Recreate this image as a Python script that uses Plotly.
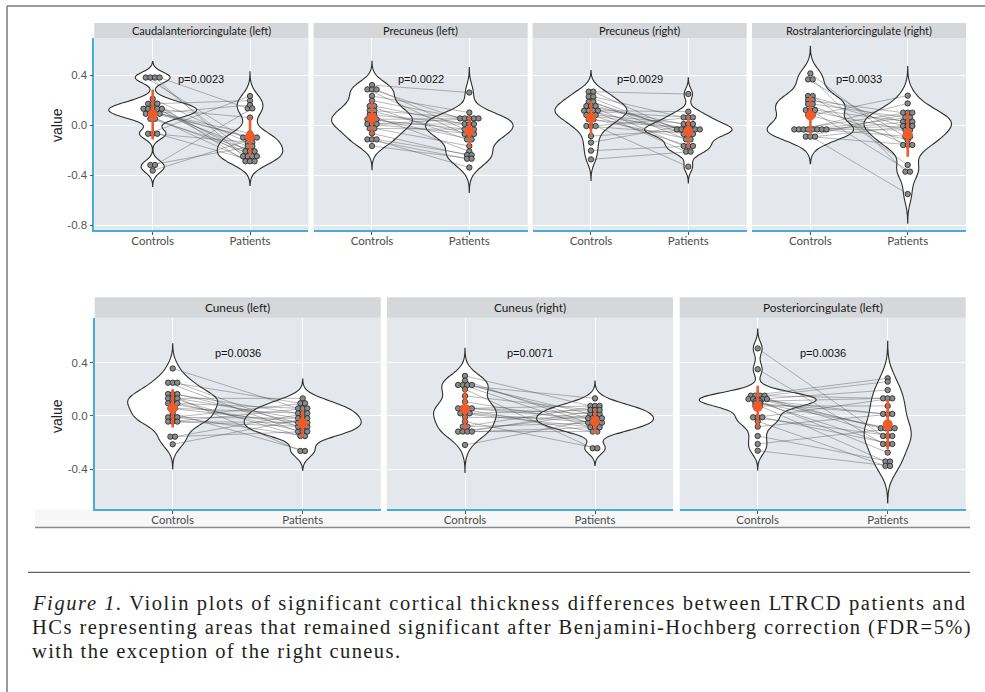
import numpy as np
import plotly.graph_objects as go

W, H = 985, 692

regions = ["Caudalanteriorcingulate (left)", "Precuneus (left)", "Precuneus (right)",
           "Rostralanteriorcingulate (right)", "Cuneus (left)", "Cuneus (right)",
           "Posteriorcingulate (left)"]
p_labels = ["p=0.0023", "p=0.0022", "p=0.0029", "p=0.0033", "p=0.0036", "p=0.0071", "p=0.0036"]
groups = ["Controls", "Patients"]

# paired values (index i of controls is paired with index i of patients)
controls_caudal_l = [0.38, 0.38, 0.38, 0.38, 0.21, 0.17, 0.17, 0.17, 0.13, 0.13, 0.13, 0.13, 0.13,
                     0.09, 0.09, 0.09, 0.09, 0.05, 0.05, -0.07, -0.07, -0.07, -0.32, -0.32, -0.365]
patients_caudal_l = [-0.1, -0.21, -0.25, 0.133, -0.14, -0.25, 0.195, -0.29, -0.1, -0.17, 0.06, -0.21,
                     -0.25, -0.29, 0.16, -0.1, -0.067, -0.21, -0.25, 0.232, -0.14, -0.29, -0.17, 0.133, -0.1]
controls_precun_l = [0.32, 0.285, 0.285, 0.285, 0.232, 0.195, 0.152, 0.152, 0.115, 0.115, 0.08, 0.08,
                     0.045, 0.045, 0.045, 0.008, 0.008, 0.008, -0.027, -0.027, -0.067, -0.115, -0.115,
                     -0.115, -0.168]
patients_precun_l = [0.26, -0.072, 0.053, -0.035, 0.1, 0.053, -0.115, 0.008, -0.072, 0.053, -0.21, 0.008,
                     -0.035, 0.053, -0.115, -0.072, 0.053, 0.008, -0.035, -0.168, -0.24, -0.27, -0.34,
                     -0.24, -0.27]
controls_precun_r = [0.267, 0.267, 0.227, 0.227, 0.187, 0.187, 0.152, 0.152, 0.152, 0.115, 0.115, 0.115,
                     0.115, 0.08, 0.08, 0.08, 0.045, 0.045, -0.008, -0.008, -0.008, -0.088, -0.14,
                     -0.205, -0.275]
patients_precun_r = [0.248, -0.035, -0.072, 0.061, -0.035, -0.115, 0.008, -0.168, -0.035, 0.061, -0.072,
                     -0.213, 0.107, -0.035, -0.168, 0.008, -0.035, -0.115, -0.072, 0.061, -0.333, -0.035,
                     0.008, -0.168, -0.213]
controls_rostral_r = [0.413, 0.365, 0.365, 0.232, 0.232, 0.2, 0.2, 0.168, 0.168, 0.12, 0.12, 0.12, 0.08,
                      0.08, -0.035, -0.035, -0.035, -0.035, -0.035, -0.035, -0.035, -0.035, -0.093,
                      -0.093, -0.093]
patients_rostral_r = [-0.16, -0.093, -0.373, 0.027, -0.32, 0.099, -0.008, -0.16, 0.061, -0.04, -0.373,
                      0.027, -0.12, 0.235, 0.099, -0.552, 0.173, -0.008, 0.061, -0.093, 0.027, -0.04,
                      0.099, -0.16, -0.008]
controls_cuneus_l = [0.356, 0.249, 0.249, 0.249, 0.164, 0.164, 0.164, 0.132, 0.132, 0.132, 0.095, 0.095,
                     0.095, 0.057, 0.057, 0.02, -0.01, -0.01, -0.01, -0.042, -0.042, -0.042, -0.155,
                     -0.155, -0.212]
patients_cuneus_l = [0.057, -0.117, 0.095, -0.08, -0.262, 0.02, -0.05, 0.132, -0.15, -0.017, -0.08, 0.057,
                     -0.117, -0.05, 0.02, -0.262, -0.017, 0.095, -0.15, -0.08, 0.057, -0.05, -0.117, 0.02,
                     -0.017]
controls_cuneus_r = [0.3, 0.265, 0.232, 0.232, 0.232, 0.232, 0.2, 0.15, 0.107, 0.057, 0.057, 0.057, 0.057,
                     0.02, 0.02, 0.02, -0.01, -0.042, -0.08, -0.08, -0.117, -0.117, -0.117, -0.117, -0.217]
patients_cuneus_r = [0.075, -0.05, 0.132, -0.085, 0.015, -0.017, -0.242, 0.045, -0.05, -0.117, 0.075,
                     -0.017, 0.015, -0.085, -0.05, 0.045, -0.017, -0.242, 0.075, -0.05, 0.015, -0.117,
                     0.045, -0.085, -0.017]
controls_postcing_l = [0.506, 0.35, 0.152, 0.152, 0.152, 0.152, 0.127, 0.127, 0.127, 0.127, 0.127, 0.11,
                       0.11, 0.095, 0.095, 0.075, 0.075, -0.01, -0.01, -0.01, -0.04, -0.08, -0.15, -0.21,
                       -0.26]
patients_postcing_l = [-0.15, -0.21, 0.282, -0.092, 0.132, 0.257, -0.21, 0.015, -0.092, 0.194, -0.15,
                       0.132, -0.274, 0.015, -0.092, 0.075, -0.341, -0.15, 0.132, -0.21, -0.374, 0.015,
                       -0.341, -0.092, -0.374]

controls_all = [controls_caudal_l, controls_precun_l, controls_precun_r, controls_rostral_r,
                controls_cuneus_l, controls_cuneus_r, controls_postcing_l]
patients_all = [patients_caudal_l, patients_precun_l, patients_precun_r, patients_rostral_r,
                patients_cuneus_l, patients_cuneus_r, patients_postcing_l]

# mean +/- sd (orange summaries)
controls_mean = [0.085, 0.055, 0.058, 0.076, 0.057, 0.053, 0.068]
controls_sd = [0.200, 0.1375, 0.133, 0.156, 0.1425, 0.150, 0.158]
patients_mean = [-0.092, -0.05, -0.052, -0.073, -0.057, -0.041, -0.063]
patients_sd = [0.157, 0.1225, 0.117, 0.180, 0.1025, 0.094, 0.185]

top_ticks = [-0.8, -0.4, 0.0, 0.4]
top_ticktext = ["-0.8", "-0.4", "0.0", "0.4"]
bot_ticks = [-0.4, 0.0, 0.4]
bot_ticktext = ["-0.4", "0.0", "0.4"]

caption_lines = [
    "<i>Figure 1.</i> Violin plots of significant cortical thickness differences between LTRCD patients and",
    "HCs representing areas that remained significant after Benjamini-Hochberg correction (FDR=5%)",
    "with the exception of the right cuneus.",
]

# ---------------- layout geometry (pixels) ----------------
panel_px = [
    (94.3, 308.4, 38.3, 230.0),
    (313.6, 527.7, 38.3, 230.0),
    (532.6, 746.7, 38.3, 230.0),
    (752.0, 966.1, 38.3, 230.0),
    (94.7, 380.7, 317.7, 509.3),
    (387.0, 673.0, 317.7, 509.3),
    (679.7, 965.7, 317.7, 509.3),
]
strip_top = [23.0, 23.0, 23.0, 23.0, 297.3, 297.3, 297.3]
top_range = [-0.84, 0.694]
bot_range = [-0.699, 0.736]
XR = [0.4, 2.6]

BLUE = '#45ACDB'
ORANGE = '#F15A29'
PANEL_BG = '#E4E7EB'
STRIP_BG = '#D5D7DA'
DOT_STEP_PX = 4.6


def nrd0(v):
    v = np.asarray(v, float)
    sd = v.std(ddof=1)
    q75, q25 = np.percentile(v, [75, 25])
    lo = min(sd, (q75 - q25) / 1.34)
    if lo <= 0:
        lo = sd
    return 0.9 * lo * len(v) ** -0.2


def kde_max(v, bw):
    v = np.asarray(v, float)
    grid = np.linspace(v.min() - 3 * bw, v.max() + 3 * bw, 600)
    d = np.exp(-0.5 * ((grid[:, None] - v[None, :]) / bw) ** 2).sum(1) / (len(v) * bw * np.sqrt(2 * np.pi))
    return d.max()


def dot_offsets(v, dx):
    v = np.round(np.asarray(v, float), 4)
    offs = np.zeros(len(v))
    for val in np.unique(v):
        idx = np.where(v == val)[0]
        m = len(idx)
        for k, j in enumerate(idx):
            offs[j] = (k - (m - 1) / 2) * dx
    return offs


fig = go.Figure()
layout = dict(width=W, height=H, margin=dict(l=0, r=0, t=0, b=0), paper_bgcolor='white',
              plot_bgcolor=PANEL_BG, showlegend=False, violinmode='overlay')
shapes = []
annotations = []

for i in range(7):
    n = '' if i == 0 else str(i + 1)
    xa, ya = 'x' + n, 'y' + n
    x0p, x1p, ytp, ybp = panel_px[i]
    top = i < 4
    first_col = i in (0, 4)
    c = np.array(controls_all[i], float)
    p = np.array(patients_all[i], float)

    # violins
    bws = [nrd0(c), nrd0(p)]
    dm = [kde_max(c, bws[0]), kde_max(p, bws[1])]
    for g, vals in enumerate([c, p]):
        bw = bws[g]
        fig.add_trace(go.Violin(
            x0=g + 1, y=vals, xaxis=xa, yaxis=ya, width=0.9 * dm[g] / max(dm), scalemode='width',
            bandwidth=bw, spanmode='manual', span=[vals.min() - 3 * bw, vals.max() + 3 * bw],
            fillcolor='white', line=dict(color='#2e2e2e', width=1.1), points=False,
            box_visible=False, meanline_visible=False, hoverinfo='skip', showlegend=False))

    px_per_unit = (x1p - x0p) / (XR[1] - XR[0])
    dx = DOT_STEP_PX / px_per_unit
    oc = dot_offsets(c, dx)
    op = dot_offsets(p, dx)

    lx, ly = [], []
    for k in range(len(c)):
        lx += [1 + oc[k], 2 + op[k], None]
        ly += [c[k], p[k], None]
    fig.add_trace(go.Scatter(x=lx, y=ly, mode='lines', xaxis=xa, yaxis=ya,
                             line=dict(color='rgba(70,70,70,0.42)', width=0.9),
                             hoverinfo='skip', showlegend=False))
    fig.add_trace(go.Scatter(x=np.concatenate([1 + oc, 2 + op]), y=np.concatenate([c, p]),
                             mode='markers', xaxis=xa, yaxis=ya,
                             marker=dict(size=5.4, color='#8a8a8a', line=dict(color='#222222', width=0.8)),
                             hoverinfo='skip', showlegend=False))
    fig.add_trace(go.Scatter(x=[1, 2], y=[controls_mean[i], patients_mean[i]], mode='markers',
                             xaxis=xa, yaxis=ya,
                             marker=dict(size=10, color=ORANGE),
                             error_y=dict(type='data', array=[controls_sd[i], patients_sd[i]],
                                          color=ORANGE, thickness=2.6, width=0),
                             hoverinfo='skip', showlegend=False))

    layout['xaxis' + n] = dict(domain=[x0p / W, x1p / W], anchor=ya, range=XR, type='linear',
                               tickvals=[1, 2], ticktext=groups, showgrid=True, gridcolor='white',
                               gridwidth=1.3, zeroline=False, showline=True, linecolor=BLUE, linewidth=1.6,
                               ticks='outside', ticklen=3, tickcolor='#555555', tickwidth=1,
                               ticklabelstandoff=-4,
                               tickfont=dict(family='Lato', size=11.5, color='#4d4d4d'), fixedrange=True)
    layout['yaxis' + n] = dict(domain=[1 - ybp / H, 1 - ytp / H], anchor=xa,
                               range=top_range if top else bot_range,
                               tickvals=top_ticks if top else bot_ticks,
                               ticktext=top_ticktext if top else bot_ticktext,
                               showgrid=True, gridcolor='white', gridwidth=1.3, zeroline=False,
                               showline=first_col, linecolor=BLUE, linewidth=1.6,
                               ticks='outside' if first_col else '', ticklen=3, tickcolor='#555555',
                               showticklabels=first_col,
                               tickfont=dict(family='Liberation Sans', size=11.5, color='#555555'),
                               fixedrange=True)

    # strip
    shapes.append(dict(type='rect', xref='paper', yref='paper', x0=x0p / W, x1=x1p / W,
                       y0=1 - ytp / H, y1=1 - strip_top[i] / H, fillcolor=STRIP_BG, line=dict(width=0),
                       layer='below'))
    annotations.append(dict(xref='paper', yref='paper', x=(x0p + x1p) / 2 / W,
                            y=1 - (ytp + strip_top[i]) / 2 / H, text=regions[i], showarrow=False,
                            xanchor='center', yanchor='middle',
                            font=dict(family='Lato', size=11 if top else 11.8, color='#1a1a1a')))
    # p-value
    annotations.append(dict(xref=xa, yref=ya, x=1.5, y=0.365 if top else 0.472, text=p_labels[i],
                            showarrow=False, xanchor='center', yanchor='middle',
                            font=dict(family='Liberation Sans', size=11, color='#111111')))

# y-axis titles
for yc in (125.0, 416.0):
    annotations.append(dict(xref='paper', yref='paper', x=57 / W, y=1 - yc / H, text='value',
                            textangle=-90, showarrow=False, xanchor='center', yanchor='middle',
                            font=dict(family='Liberation Sans', size=14, color='#222222')))

# page decorations
shapes.append(dict(type='rect', xref='paper', yref='paper', x0=35 / W, x1=970 / W, y0=1 - 527 / H,
                   y1=1 - 509.5 / H, fillcolor='#F7F7F7', line=dict(width=0), layer='below'))
shapes.append(dict(type='line', xref='paper', yref='paper', x0=35 / W, x1=970 / W, y0=1 - 527.5 / H,
                   y1=1 - 527.5 / H, line=dict(color='#8a8a8a', width=1.5)))
shapes.append(dict(type='line', xref='paper', yref='paper', x0=28 / W, x1=970 / W, y0=1 - 572.3 / H,
                   y1=1 - 572.3 / H, line=dict(color='#3a3a3a', width=1)))
shapes.append(dict(type='line', xref='paper', yref='paper', x0=7 / W, x1=1.0, y0=1 - 6 / H,
                   y1=1 - 6 / H, line=dict(color='#7a7a7a', width=1.5)))
shapes.append(dict(type='line', xref='paper', yref='paper', x0=7 / W, x1=7 / W, y0=0, y1=1 - 6 / H,
                   line=dict(color='#7a7a7a', width=1.5)))

caption_y = [603, 627, 651]
caption_spacing = [1.6, 1.45, 1.4]
for txt, yc, ls in zip(caption_lines, caption_y, caption_spacing):
    annotations.append(dict(xref='paper', yref='paper', x=30 / W, y=1 - yc / H,
                            text='<span style="letter-spacing:%.2fpx">%s</span>' % (ls, txt),
                            showarrow=False, xanchor='left', yanchor='middle', align='left',
                            font=dict(family='Liberation Serif', size=20.5, color='#231f20')))

layout['shapes'] = shapes
layout['annotations'] = annotations
fig.update_layout(**layout)
fig.write_html("out.html", config={'displayModeBar': False},
               post_script="document.body.style.margin='0px';document.body.style.overflow='hidden';")
